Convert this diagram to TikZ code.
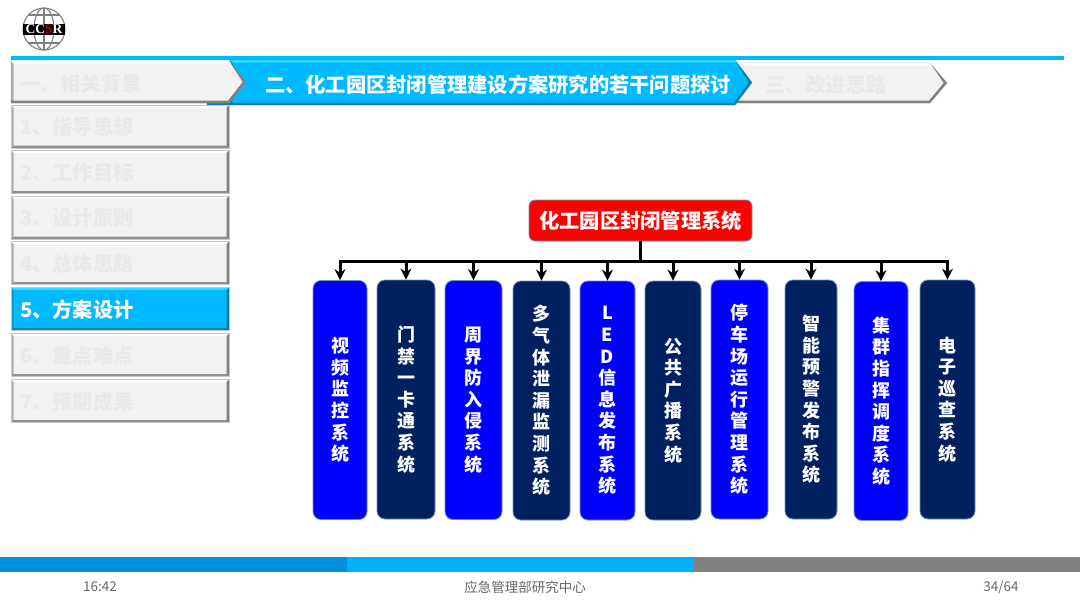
\documentclass[tikz,border=0pt]{standalone}
\usepackage{fontspec}
\setmainfont{Noto Sans CJK SC}
\newfontfamily\logofont{Liberation Serif}
\usepackage{xcolor}
\usetikzlibrary{arrows.meta,calc}

\definecolor{sky}{HTML}{00B9FF}
\definecolor{skyhi}{HTML}{2FDCFF}
\definecolor{skylo}{HTML}{007FA8}
\definecolor{navy}{HTML}{002060}
\definecolor{pure}{HTML}{0000FF}
\definecolor{edge}{HTML}{6F93B5}
\definecolor{pale}{HTML}{F3F2F3}
\definecolor{faint}{HTML}{EAE9EA}
\definecolor{deep}{HTML}{0091DA}
\definecolor{mid}{HTML}{00B0FF}

% chevron: x-left, x-shoulder, x-tip, y-top, y-bottom, fill, top edge, low edge
\newcommand{\chev}[8]{
    \filldraw[fill=#8, draw=#8, draw opacity=0.45, line width=0.6pt] (#1,#4) -- (#2,#4) -- (#3,{(#4+#5)/2}) -- (#2,#5) -- (#1,#5) -- cycle;
    \fill[#6] (#1,#4) -- (#2,#4) -- ({#3-3.5},{(#4+#5)/2}) -- ({#2-1},{#5-2.5}) -- (#1,{#5-2.5}) -- cycle;
    \fill[#7] (#1,#4) -- (#2,#4) -- ({#2+2},{#4+2.5}) -- (#1,{#4+2.5}) -- cycle;
    \fill[#8, opacity=0.6] (#1,#4) -- ({#1+2.5},{#4+2.5}) -- ({#1+2.5},{#5-2.5}) -- (#1,#5) -- cycle;
}

\begin{document}
\begin{tikzpicture}[x=1pt,y=-1pt,>=Stealth,
    % ---- styles ----
    V/.style={draw=edge, fill=#1, rounded corners=8pt, line width=0.8pt,
              font=\fontsize{18}{21.6}\selectfont\bfseries, text=white,
              align=center, inner sep=0pt, minimum height=239pt},
    H/.style={font=\fontsize{20.25}{24}\selectfont\bfseries, text=#1, inner sep=0pt},
    F/.style={font=\fontsize{13.5}{16}\selectfont, text=black!60, inner sep=0pt},
    M/.style n args={4}{fill=#1, minimum width=218pt, text width=200pt, inner xsep=9pt,
              inner ysep=0pt, align=left, font=\fontsize{20.25}{24}\selectfont\bfseries,
              text=#2, minimum height=43pt, text height=20pt, text depth=3.3pt,
              draw=black!22, line width=0.6pt,
              path picture={
                  \coordinate (nw) at (path picture bounding box.north west);
                  \coordinate (ne) at (path picture bounding box.north east);
                  \coordinate (sw) at (path picture bounding box.south west);
                  \coordinate (se) at (path picture bounding box.south east);
                  \fill[#3] (nw) -- (ne) -- ($(ne)+(-2.5,2.5)$) -- ($(nw)+(2.5,2.5)$) -- cycle;
                  \fill[#4, opacity=0.6] (nw) -- ($(nw)+(2.5,2.5)$) -- ($(sw)+(2.5,-2.5)$) -- (sw) -- cycle;
                  \fill[#4] (ne) -- ($(ne)+(-2.5,2.5)$) -- ($(se)+(-2.5,-2.5)$) -- (se) -- cycle;
                  \fill[#4, opacity=0.85] (sw) -- ($(sw)+(2.5,-2.5)$) -- ($(se)+(-2.5,-2.5)$) -- (se) -- cycle;
              }},
    MO/.style={M={pale}{faint}{white}{black!50}},
    A/.style={-{Stealth[length=11pt, width=11pt]}, line width=3pt, color=black},
]
\useasboundingbox (0,0) rectangle (1080,608);

% ===== Logo =====
\draw[black!50, line width=1.1pt] (44,29) circle (21);
\draw[black!50, line width=1.1pt] (44,29) ellipse (10 and 21);
\draw[black!50, line width=1.1pt] (44,8) -- (44,50);
\draw[black!50, line width=1.1pt] (28,15) -- (60,15) (28,43) -- (60,43);
\fill[black] (23,24) rectangle (65,35);
\node[inner sep=0pt, text=white, font=\logofont\fontsize{13.5}{13.5}\selectfont\bfseries] (logo) at (44,29.5)
    {CC\textcolor{red!70!black}{S}R};

% ===== Header =====
\fill[sky] (11,56) rectangle (1064,60);
\chev{735}{930}{947}{63}{103}{pale}{white}{black!50}
\fill[sky!70!black] (207,103) rectangle (232,104.5);
\chev{230}{735}{752}{60}{105}{sky}{skyhi}{skylo}
\chev{11}{229}{246}{61}{103}{pale}{white}{black!50}

\node[H=faint, anchor=west] (tab1) at (20,84) {一、相关背景};
\node[H=white, anchor=west] (tab2) at (265,84.5) {二、化工园区封闭管理建设方案研究的若干问题探讨};
\node[H=faint, anchor=west] (tab3) at (765,84.5) {三、改进思路};

% ===== Menu =====
\node[MO] (m1) at (120,126.5) {1、指导思想};
\node[MO] (m2) at (120,172)   {2、工作目标};
\node[MO] (m3) at (120,217.5) {3、设计原则};
\node[MO] (m4) at (120,263)   {4、总体思路};
\node[M={sky}{white}{skyhi}{skylo}] (m5) at (120,309) {5、方案设计};
\node[MO] (m6) at (120,355)   {6、重点难点};
\node[MO] (m7) at (120,401)   {7、预期成果};

% ===== Tree =====
\node[draw=edge, fill=red, rounded corners=6pt, line width=0.8pt, minimum width=223pt,
      minimum height=41pt, H=white, inner sep=0pt] (title) at (640.5,220.5) {化工园区封闭管理系统};
\coordinate (bus) at (640.5,261);

\node[V=pure, minimum width=54pt] (v1)  at (340,400)   {视\\频\\监\\控\\系\\统};
\node[V=navy, minimum width=58pt] (v2)  at (406,399.5) {门\\禁\\一\\卡\\通\\系\\统};
\node[V=pure, minimum width=57pt] (v3)  at (473.5,400) {周\\界\\防\\入\\侵\\系\\统};
\node[V=navy, minimum width=57pt] (v4)  at (541.5,400.5) {多\\气\\体\\泄\\漏\\监\\测\\系\\统};
\node[V=pure, minimum width=55pt] (v5)  at (607.5,400.5) {L\\E\\D\\信\\息\\发\\布\\系\\统};
\node[V=navy, minimum width=56pt] (v6)  at (673,400.5) {公\\共\\广\\播\\系\\统};
\node[V=pure, minimum width=57pt] (v7)  at (739.5,399.5) {停\\车\\场\\运\\行\\管\\理\\系\\统};
\node[V=navy, minimum width=52pt] (v8)  at (811,399.5) {智\\能\\预\\警\\发\\布\\系\\统};
\node[V=pure, minimum width=54pt] (v9)  at (881,401)   {集\\群\\指\\挥\\调\\度\\系\\统};
\node[V=navy, minimum width=55pt] (v10) at (947.5,399.5) {电\\子\\巡\\查\\系\\统};

% Title -> each system
\foreach \a in {v1,v2,v3,v4,v5,v6,v7,v8,v9,v10}
    \draw[A] (title.south) -- (bus) -| (\a.north);

% ===== Footer =====
\fill[black!50] (694,557) rectangle (1080,572);
\fill[mid] (347,557) rectangle (694,572);
\fill[deep] (0,557) rectangle (347,572);

\node[F] (time) at (100,587) {16:42};
\node[F] (org)  at (525,587) {应急管理部研究中心};
\node[F] (page) at (1001,587) {34/64};

\end{tikzpicture}
\end{document}
